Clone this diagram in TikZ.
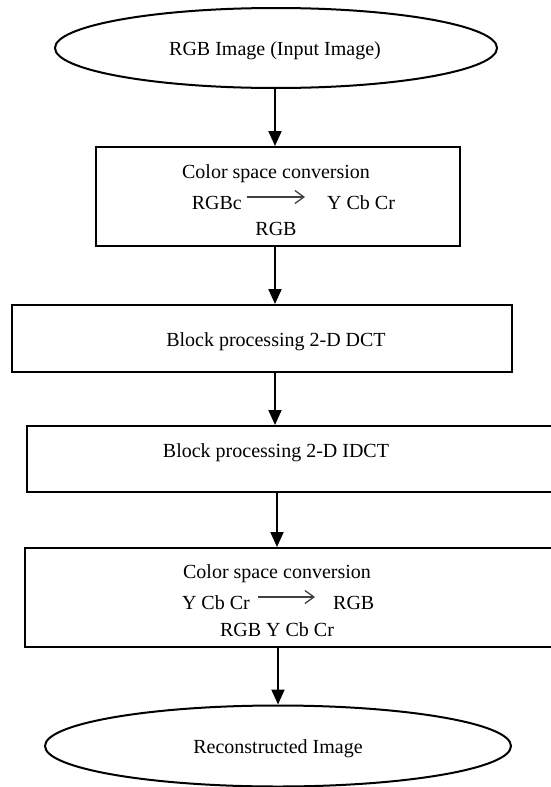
\documentclass[tikz,border=0pt]{standalone}
\usepackage{fontspec}
\setmainfont{Liberation Serif}
\usetikzlibrary{shapes.geometric,arrows.meta}
\begin{document}
\begin{tikzpicture}[x=1pt,y=-1pt,
  box/.style={draw=black,line width=2pt,rectangle,inner sep=0pt,anchor=north west},
  oval/.style={draw=black,line width=2pt,ellipse,inner sep=0pt},
  txt/.style={inner sep=0pt,font=\fontsize{20}{24}\selectfont,anchor=base},
  flow/.style={line width=2pt,-{Triangle[length=15pt,width=13pt]}},
  conv/.style={draw=black!75,line width=1.3pt,-{Straight Barb[length=9pt,width=13pt,line width=1.3pt]}}]
\clip (0,0) rectangle (551,787);
\fill[white] (0,0) rectangle (551,787);
% nodes
\node[oval,minimum width=442,minimum height=80] (e1) at (276,48) {};
\node[txt] (te1) at (275,55) {RGB Image (Input Image)};
\node[box,minimum width=364,minimum height=99] (b1) at (95,146) {};
\node[txt] (t1a) at (276,178) {Color space conversion};
\node[txt,anchor=base east] (t1b) at (242,209) {RGBc};
\node[txt,anchor=base west] (t1c) at (327,209) {Y Cb Cr};
\node[txt] (t1d) at (276,235) {RGB};
\node[box,minimum width=500,minimum height=67] (b2) at (11,304) {};
\node[txt] (t2) at (276,346) {Block processing 2-D DCT};
\node[box,minimum width=560,minimum height=66] (b3) at (26,425) {};
\node[txt] (t3) at (276,457) {Block processing 2-D IDCT};
\node[box,minimum width=560,minimum height=99] (b4) at (24,547) {};
\node[txt] (t4a) at (277,578) {Color space conversion};
\node[txt,anchor=base east] (t4b) at (250,609) {Y Cb Cr};
\node[txt,anchor=base west] (t4c) at (333,609) {RGB};
\node[txt] (t4d) at (277,636) {RGB Y Cb Cr};
\node[oval,minimum width=466,minimum height=81] (e2) at (278,746) {};
\node[txt] (te2) at (278,753) {Reconstructed Image};
% column coordinates
\coordinate (c1) at (275,0);
\coordinate (c4) at (277,0);
\coordinate (c5) at (278,0);
% connectors
\draw[flow] (c1 |- e1.south) -- (c1 |- b1.north);
\draw[flow] (c1 |- b1.south) -- (c1 |- b2.north);
\draw[flow] (c1 |- b2.south) -- (c1 |- b3.north);
\draw[flow] (c4 |- b3.south) -- (c4 |- b4.north);
\draw[flow] (c5 |- b4.south) -- (c5 |- e2.north);
% in-text conversion arrows
\draw[conv] ([xshift=5pt,yshift=12pt]t1b.base east) -- ([xshift=-22pt,yshift=12pt]t1c.base west);
\draw[conv] ([xshift=8pt,yshift=12pt]t4b.base east) -- ([xshift=-18pt,yshift=12pt]t4c.base west);
\end{tikzpicture}
\end{document}
